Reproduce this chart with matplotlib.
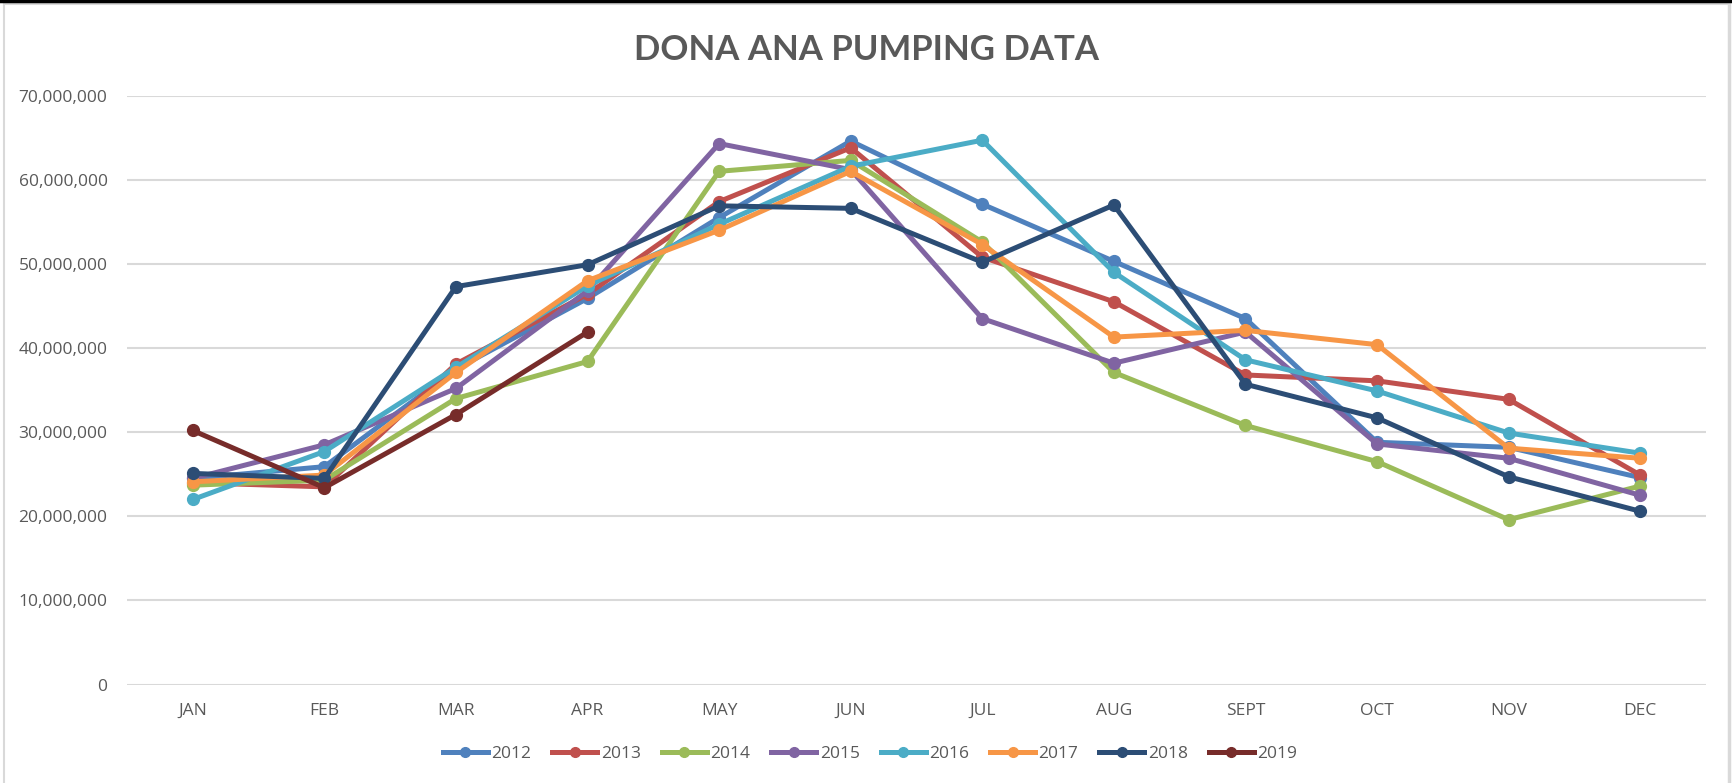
import matplotlib
matplotlib.use("Agg")
import matplotlib.pyplot as plt
from matplotlib.ticker import FuncFormatter
from matplotlib.lines import Line2D

# monthly pumping, millions of gallons
months = ["JAN", "FEB", "MAR", "APR", "MAY", "JUN", "JUL", "AUG", "SEPT", "OCT", "NOV", "DEC"]
years = ["2012", "2013", "2014", "2015", "2016", "2017", "2018", "2019"]

y2012 = [24.5, 25.9, 37.5, 45.9, 55.5, 64.6, 57.1, 50.3, 43.5, 28.8, 28.2, 24.6]
y2013 = [24.0, 23.5, 38.1, 46.4, 57.4, 63.8, 50.8, 45.5, 36.8, 36.1, 33.9, 24.9]
y2014 = [23.7, 24.3, 34.0, 38.4, 61.0, 62.3, 52.6, 37.1, 30.8, 26.5, 19.6, 23.6]
y2015 = [24.5, 28.5, 35.2, 46.8, 64.3, 61.2, 43.5, 38.2, 41.9, 28.6, 26.9, 22.5]
y2016 = [22.0, 27.7, 37.7, 47.4, 54.7, 61.6, 64.7, 49.0, 38.6, 34.9, 29.9, 27.5]
y2017 = [24.1, 24.9, 37.1, 48.0, 54.0, 61.0, 52.3, 41.3, 42.1, 40.4, 28.1, 26.9]
y2018 = [25.1, 24.5, 47.3, 49.9, 56.9, 56.6, 50.2, 57.0, 35.7, 31.7, 24.7, 20.6]
y2019 = [30.2, 23.4, 32.1, 41.9]

series = [y2012, y2013, y2014, y2015, y2016, y2017, y2018, y2019]
colors = ["#4F81BD", "#C0504D", "#9BBB59", "#8064A2",
          "#4BACC6", "#F79646", "#2C4D75", "#772C2A"]

SCALE = 1e6
TXT = "#595959"
GRID = "#D9D9D9"
FONT = "Open Sans"

fig = plt.figure(figsize=(17.33, 7.83), dpi=100)
W, H = 1733, 783
ax = fig.add_axes([127 / W, 1 - 684.6 / H, (1706 - 127) / W, (684.6 - 95.6) / H])

for vals, col, yr in zip(series, colors, years):
    x = list(range(len(vals)))
    ax.plot(x, [v * SCALE for v in vals], color=col, lw=3.6, marker="o",
            ms=8.5, solid_capstyle="round", label=yr, zorder=3)

ax.set_xlim(-0.5, len(months) - 0.5)
ax.set_ylim(0, 70e6)
ax.set_yticks([i * 10e6 for i in range(8)])
ax.yaxis.set_major_formatter(FuncFormatter(lambda v, p: f"{v:,.0f}"))
ax.set_xticks(range(len(months)))
ax.set_xticklabels(months)
ax.grid(axis="y", color=GRID, lw=1.5, zorder=0)
for s in ax.spines.values():
    s.set_visible(False)
ax.tick_params(length=0, colors=TXT, labelsize=12.5)
ax.tick_params(axis="y", pad=14)
ax.tick_params(axis="x", pad=13)
for lab in ax.get_xticklabels() + ax.get_yticklabels():
    lab.set_fontfamily(FONT)

fig.text(0.5, 1 - 50 / H, "DONA ANA PUMPING DATA", ha="center", va="center",
         fontsize=25, fontweight="bold", color=TXT, family="Lato")

handles = [Line2D([], [], color=c, lw=3.6, marker="o", ms=7) for c in colors]
fig.legend(handles, years, loc="center", bbox_to_anchor=(0.502, 1 - 754 / H),
           ncol=8, frameon=False, handlelength=2.6, handletextpad=0.2,
           columnspacing=1.2, prop={"family": FONT, "size": 12.5},
           labelcolor=TXT)

# chart frame like the spreadsheet export
fig.add_artist(Line2D([4 / W, 4 / W], [0, 1 - 4 / H], color="#D9D9D9", lw=1.5))
fig.add_artist(Line2D([4 / W, 1729 / W], [1 - 4 / H, 1 - 4 / H], color="#D9D9D9", lw=1.5))
fig.add_artist(Line2D([1729 / W, 1729 / W], [0, 1 - 4 / H], color="#D9D9D9", lw=2.5))
fig.add_artist(Line2D([0, 1], [1 - 1 / H, 1 - 1 / H], color="black", lw=2.5))

fig.savefig("out.png", dpi=100)
